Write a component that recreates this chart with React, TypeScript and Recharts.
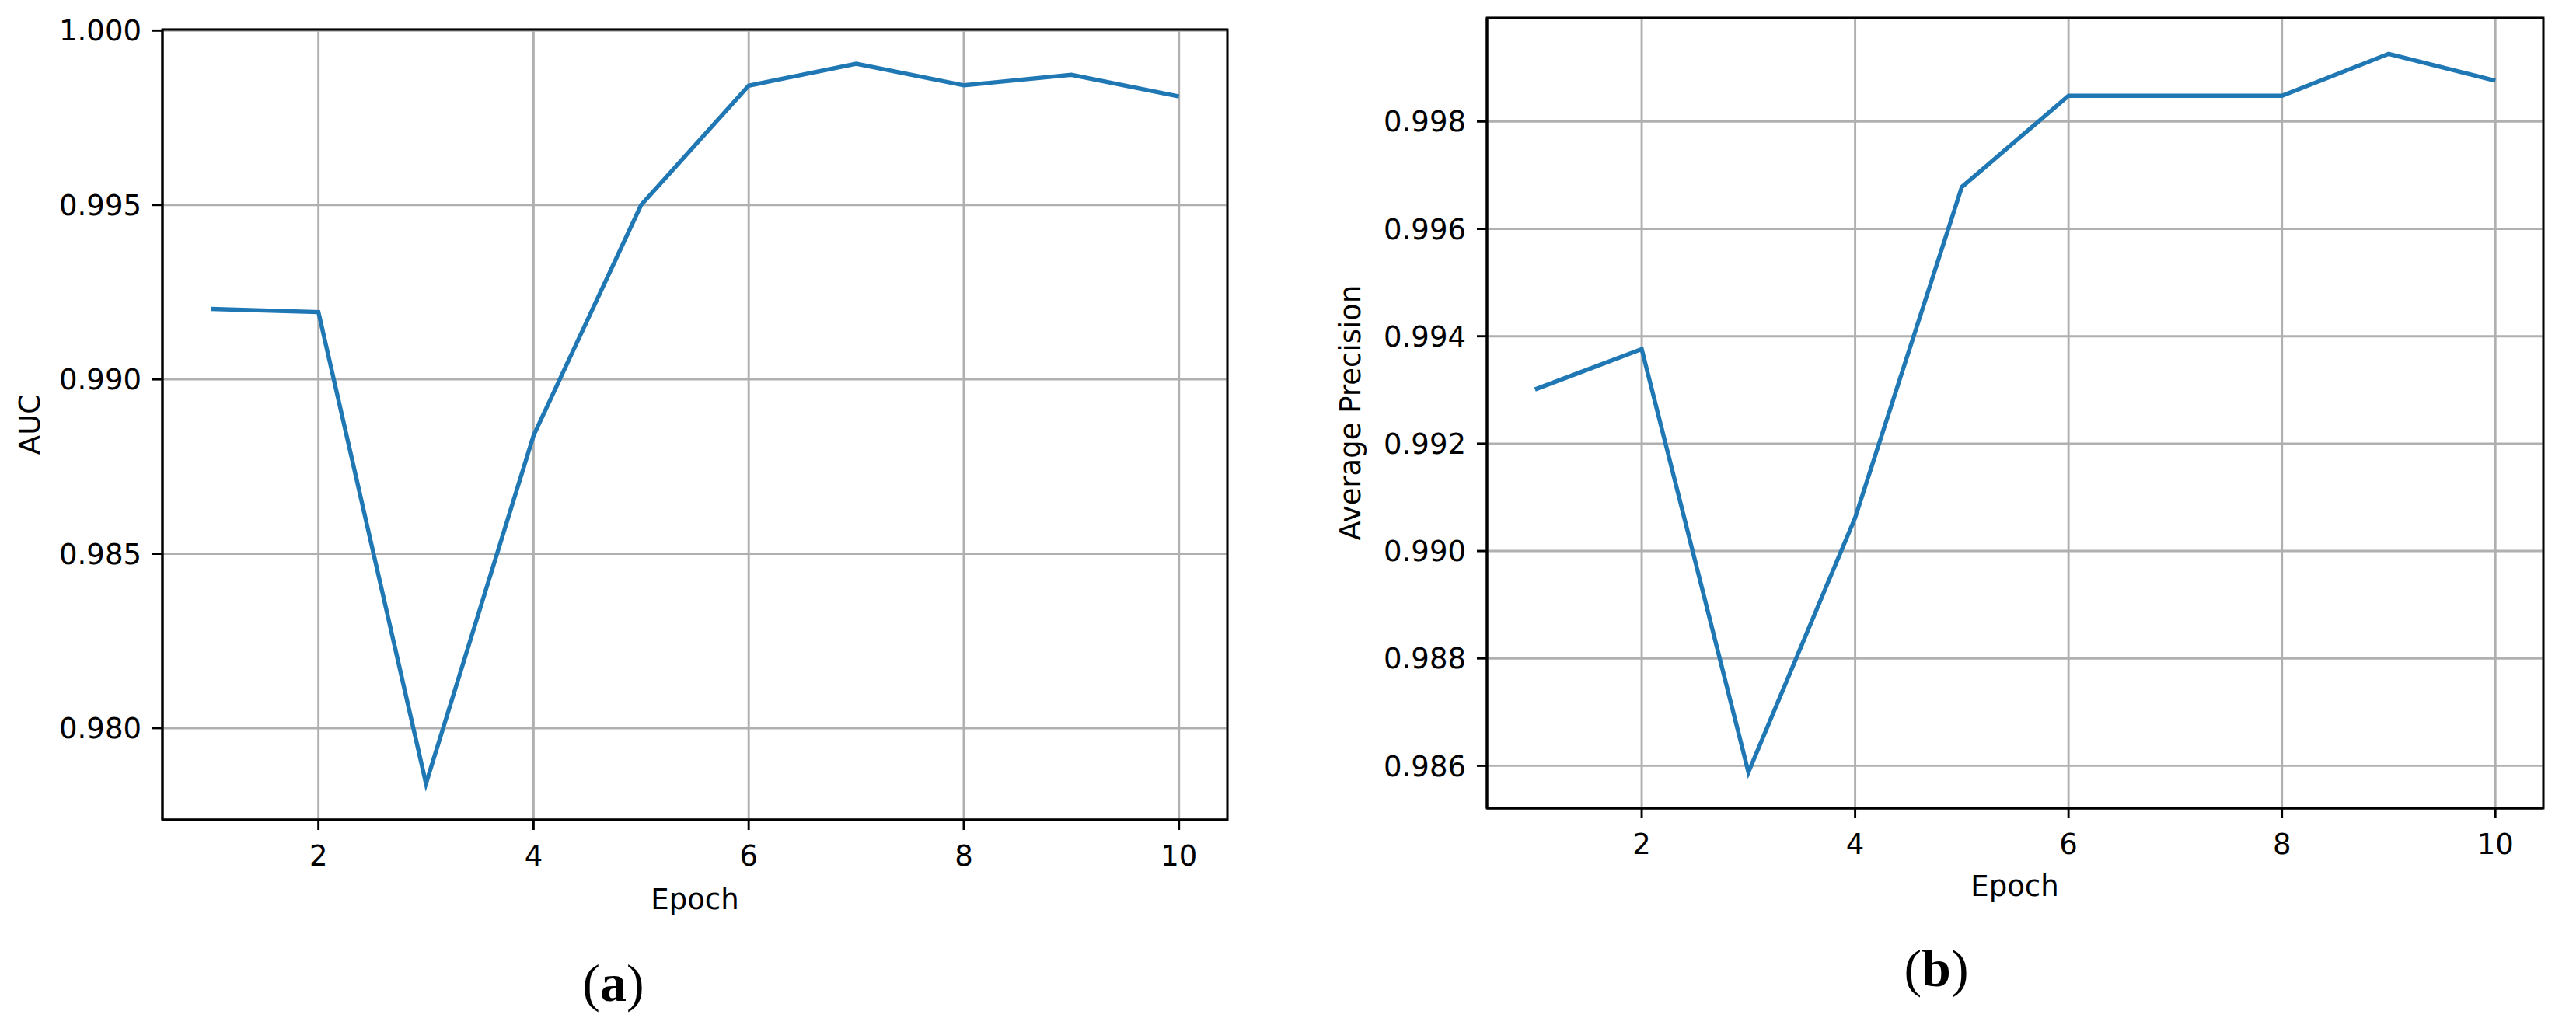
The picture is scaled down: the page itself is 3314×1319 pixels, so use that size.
import { LineChart, Line, XAxis, YAxis, CartesianGrid, ReferenceArea } from 'recharts';

const epochs = [1, 2, 3, 4, 5, 6, 7, 8, 9, 10];
const aucValues = [0.99202, 0.99193, 0.97841, 0.98839, 0.995, 0.99842, 0.99905, 0.99843, 0.99873, 0.99811];
const apValues = [0.99301, 0.99376, 0.98588, 0.99062, 0.99678, 0.99848, 0.99848, 0.99848, 0.99926, 0.99876];

const epochTicks = [2, 4, 6, 8, 10];
const aucTicks = [0.98, 0.985, 0.99, 0.995, 1.0];
const apTicks = [0.986, 0.988, 0.99, 0.992, 0.994, 0.996, 0.998];

const epochDomain: [number, number] = [0.55, 10.45];
const aucDomain: [number, number] = [0.97737, 1.00003];
const apDomain: [number, number] = [0.98521, 0.99993];

const BLUE = '#1f77b4';
const GRID = '#b0b0b0';
const FONT = '"DejaVu Sans", sans-serif';
const SERIF = '"Liberation Serif", "Times New Roman", serif';
const FS = 37;
const LW = 2.9;

interface PanelProps {
  values: number[];
  yDomain: [number, number];
  yTicks: number[];
  left: number;
  width: number;
  margin: { top: number; right: number; bottom: number; left: number };
}

function Panel({ values, yDomain, yTicks, left, width, margin }: PanelProps) {
  const data = epochs.map((epoch, i) => ({ epoch, value: values[i] }));
  const tick = { fill: '#000', fontSize: FS, fontFamily: FONT };
  return (
    <div style={{ position: 'absolute', left, top: 0 }}>
      <LineChart width={width} height={1319} data={data} margin={margin}>
        <CartesianGrid stroke={GRID} strokeWidth={LW} />
        <XAxis
          dataKey="epoch"
          type="number"
          domain={epochDomain}
          ticks={epochTicks}
          allowDataOverflow
          interval={0}
          height={100}
          tickSize={13}
          tickMargin={20}
          tick={tick}
          axisLine={{ stroke: '#000', strokeWidth: LW }}
          tickLine={{ stroke: '#000', strokeWidth: LW }}
        />
        <YAxis
          type="number"
          domain={yDomain}
          ticks={yTicks}
          allowDataOverflow
          interval={0}
          width={180}
          tickSize={13}
          tickMargin={14}
          tick={tick}
          tickFormatter={(v: number) => v.toFixed(3)}
          axisLine={{ stroke: '#000', strokeWidth: LW }}
          tickLine={{ stroke: '#000', strokeWidth: LW }}
        />
        <Line
          type="linear"
          dataKey="value"
          stroke={BLUE}
          strokeWidth={5.4}
          dot={false}
          isAnimationActive={false}
        />
        <ReferenceArea
          x1={epochDomain[0]}
          x2={epochDomain[1]}
          y1={yDomain[0]}
          y2={yDomain[1]}
          fill="none"
          stroke="#000"
          strokeWidth={LW}
          ifOverflow="visible"
        />
      </LineChart>
    </div>
  );
}

export default function App() {
  return (
    <div style={{ position: 'absolute', left: 0, top: 0, width: 3314, height: 1319, background: '#fff', overflow: 'hidden' }}>
      <Panel
        values={aucValues}
        yDomain={aucDomain}
        yTicks={aucTicks}
        left={0}
        width={1650}
        margin={{ top: 38, right: 71, bottom: 164, left: 29 }}
      />
      <Panel
        values={apValues}
        yDomain={apDomain}
        yTicks={apTicks}
        left={1650}
        width={1664}
        margin={{ top: 23, right: 42, bottom: 179, left: 83 }}
      />
      <svg width={3314} height={1319} style={{ position: 'absolute', left: 0, top: 0, pointerEvents: 'none' }}>
        <g fontFamily={FONT} fontSize={FS} fill="#000">
          <text x={894} y={1170} textAnchor="middle">Epoch</text>
          <text x={51} y={546} textAnchor="middle" transform="rotate(-90 51 546)">AUC</text>
          <text x={2592} y={1153} textAnchor="middle">Epoch</text>
          <text x={1750} y={531} textAnchor="middle" transform="rotate(-90 1750 531)">Average Precision</text>
        </g>
        <g fontFamily={SERIF} fontSize={68} fill="#000">
          <text x={789} y={1288} textAnchor="middle">
            <tspan>(</tspan>
            <tspan fontWeight="bold">a</tspan>
            <tspan>)</tspan>
          </text>
          <text x={2491} y={1269} textAnchor="middle">
            <tspan>(</tspan>
            <tspan fontWeight="bold">b</tspan>
            <tspan>)</tspan>
          </text>
        </g>
      </svg>
    </div>
  );
}
